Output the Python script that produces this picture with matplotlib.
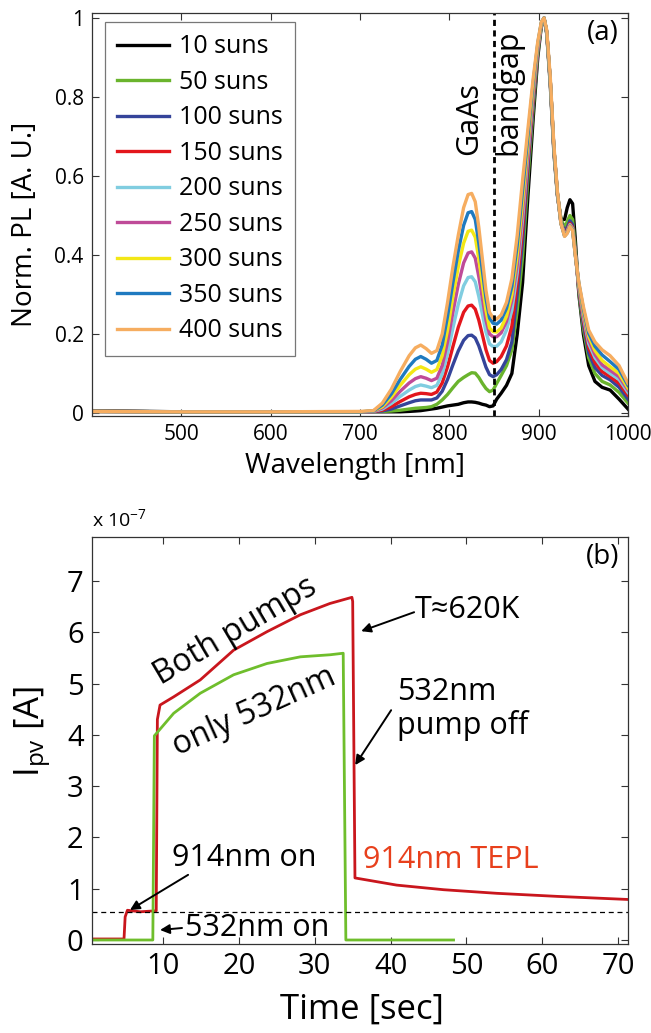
import matplotlib
matplotlib.use("Agg")
import matplotlib.pyplot as plt

plt.rcParams["font.family"] = ["Open Sans", "DejaVu Sans"]
plt.rcParams["mathtext.fontset"] = "custom"
plt.rcParams["mathtext.rm"] = "Open Sans"
plt.rcParams["mathtext.it"] = "Open Sans:italic"
plt.rcParams["mathtext.default"] = "regular"

# ---- panel (a): normalised PL spectra ----
WL = [400, 500, 600, 700,
      715, 725, 735, 745, 755, 762, 768, 774, 780, 786,
      792, 798, 804, 810, 816, 821, 825, 829, 833, 837,
      841, 845, 849, 853, 858, 864, 870,
      876, 882, 888, 894, 899, 903, 906, 909, 913, 917,
      921, 925, 929, 932, 935, 938, 941, 945, 950, 956,
      963, 971, 980, 990, 1000]

PL_10 = [.006, .003, .003, .003,
         .003, .003, .003, .003, .004, .005, .006, .008, .01, .012,
         .015, .018, .02, .022, .026, .028, .028, .027, .025, .022,
         .02, .016, .018, .035, .05, .07, .1,
         .2, .33, .55, .75, .9, .98, 1.0, .96, .83, .66,
         .55, .49, .49, .52, .54, .53, .44, .30, .2, .12,
         .08, .065, .058, .035, .01]
PL_50 = [.004, .003, .003, .003,
         .004, .004, .005, .007, .01, .012, .013, .014, .016, .022,
         .033, .047, .064, .08, .09, .097, .102, .101, .09, .075,
         .062, .054, .058, .075, .095, .12, .16,
         .26, .395, .593, .775, .91, .982, 1.0, .965, .84, .67,
         .555, .49, .47, .485, .50, .49, .42, .305, .214, .14,
         .10, .08, .071, .052, .025]
PL_100 = [.004, .003, .003, .003,
          .004, .005, .01, .018, .026, .031, .033, .033, .033, .038,
          .055, .085, .122, .157, .184, .196, .197, .19, .17, .143,
          .116, .097, .092, .097, .11, .135, .18,
          .30, .434, .618, .79, .916, .984, 1.0, .965, .84, .67,
          .555, .485, .46, .47, .487, .477, .41, .31, .225, .152,
          .115, .095, .084, .065, .035]
PL_150 = [.004, .003, .003, .003,
          .004, .007, .016, .029, .041, .047, .05, .049, .047, .053,
          .076, .117, .168, .217, .255, .271, .273, .263, .235, .198,
          .16, .133, .126, .13, .143, .17, .22,
          .33, .465, .638, .802, .921, .985, 1.0, .965, .84, .67,
          .555, .48, .455, .463, .48, .47, .405, .315, .235, .165,
          .128, .105, .092, .075, .045]
PL_200 = [.004, .003, .003, .003,
          .004, .01, .024, .042, .058, .067, .071, .068, .064, .07,
          .098, .15, .215, .275, .322, .343, .345, .332, .295, .25,
          .205, .175, .168, .169, .18, .21, .26,
          .355, .491, .655, .812, .925, .986, 1.0, .965, .84, .67,
          .555, .48, .452, .46, .477, .467, .403, .32, .243, .176,
          .14, .115, .10, .085, .052]
PL_250 = [.004, .003, .003, .003,
          .004, .013, .031, .055, .076, .087, .092, .088, .082, .088,
          .12, .18, .255, .325, .38, .405, .408, .392, .345, .29,
          .235, .2, .193, .193, .203, .232, .285,
          .375, .512, .669, .82, .928, .987, 1.0, .965, .84, .67,
          .555, .48, .45, .458, .475, .465, .402, .322, .25, .185,
          .148, .122, .108, .092, .058]
PL_300 = [.004, .003, .003, .003,
          .005, .016, .04, .07, .097, .111, .117, .111, .103, .11,
          .145, .21, .295, .37, .43, .46, .463, .445, .39, .325,
          .26, .215, .206, .205, .215, .245, .3,
          .40, .538, .686, .83, .932, .988, 1.0, .965, .84, .67,
          .555, .48, .449, .457, .474, .464, .401, .325, .257, .194,
          .158, .133, .117, .10, .063]
PL_350 = [.004, .003, .003, .003,
          .005, .02, .048, .085, .118, .136, .143, .136, .126, .133,
          .172, .245, .33, .41, .475, .507, .51, .49, .43, .36,
          .29, .24, .227, .225, .235, .265, .32,
          .425, .564, .703, .84, .936, .989, 1.0, .965, .84, .67,
          .555, .48, .448, .456, .473, .463, .40, .328, .264, .202,
          .169, .147, .13, .11, .07]
PL_400 = [.004, .003, .003, .004,
          .006, .025, .06, .105, .145, .165, .172, .163, .151, .158,
          .2, .28, .37, .45, .52, .553, .556, .535, .47, .39,
          .31, .255, .24, .238, .248, .28, .34,
          .45, .59, .72, .85, .94, .99, 1.0, .97, .85, .68,
          .56, .48, .447, .455, .472, .462, .40, .33, .27, .21,
          .18, .16, .145, .12, .075]

SPECTRA = [PL_10, PL_50, PL_100, PL_150, PL_200, PL_250, PL_300, PL_350, PL_400]
LABELS = ["10 suns", "50 suns", "100 suns", "150 suns", "200 suns",
          "250 suns", "300 suns", "350 suns", "400 suns"]
COLORS = ["#000000", "#6ab42d", "#35449a", "#e3161c", "#80cde0",
          "#bf4b98", "#f3e716", "#1f7ac0", "#f6ad60"]
GAAS_EDGE = 850

# ---- panel (b): photovoltage current (units of 1e-7 A) ----
T_RED = [0.63, 4.85, 5.0, 5.3, 7.0, 9.1, 9.25, 9.6, 11.4, 14.9, 19.3, 23.7,
         28.1, 32.0, 34.9, 35.0, 35.3, 40.8, 47.0, 54.0, 62.0, 71.3]
I_RED = [0.02, 0.02, 0.45, 0.58, 0.55, 0.57, 4.3, 4.58, 4.74, 5.07, 5.65, 6.01,
         6.34, 6.56, 6.68, 6.6, 1.21, 1.07, 0.98, 0.91, 0.85, 0.79]
T_GREEN = [0.63, 8.65, 8.85, 11.4, 14.9, 19.3, 23.7, 28.1, 32.0, 33.75, 34.1, 48.3]
I_GREEN = [0.0, 0.0, 3.98, 4.42, 4.81, 5.17, 5.39, 5.52, 5.56, 5.59, 0.0, 0.0]
DARK_LEVEL = 0.55

fig = plt.figure(figsize=(6.51, 10.33), dpi=100)
ax1 = fig.add_axes([92 / 651, 1 - 416 / 1033, 536 / 651, 403 / 1033])
ax2 = fig.add_axes([92 / 651, 1 - 944 / 1033, 536 / 651, 407 / 1033])

for ax in (ax1, ax2):
    for s in ax.spines.values():
        s.set_color("#333333")
        s.set_linewidth(0.9)
    ax.tick_params(direction="in", length=5, width=0.8, top=True, right=True,
                   colors="#333333", labelcolor="black", pad=6)

# panel (a)
for vals, lab, col in zip(SPECTRA, LABELS, COLORS):
    ax1.plot(WL, vals, color=col, lw=2.4, label=lab, solid_joinstyle="round")
ax1.axvline(GAAS_EDGE, color="black", lw=2.0, ls=(0, (2.2, 1.6)))
ax1.set_xlim(400, 1000)
ax1.set_ylim(-0.0076, 1.0127)
ax1.set_xticks([500, 600, 700, 800, 900, 1000])
ax1.set_yticks([0, 0.2, 0.4, 0.6, 0.8, 1])
ax1.set_yticklabels(["0", "0.2", "0.4", "0.6", "0.8", "1"])
ax1.tick_params(labelsize=15)

leg = ax1.legend(loc="upper left", bbox_to_anchor=(0.024, 0.978), borderaxespad=0,
                 fancybox=False, edgecolor="#555555", fontsize=18,
                 handlelength=2.05, handletextpad=0.4, labelspacing=0.42,
                 borderpad=0.5)
leg.get_frame().set_linewidth(0.9)

ax1.text(0.491, -0.124, "Wavelength [nm]", transform=ax1.transAxes,
         ha="center", va="center", fontsize=20)
ax1.text(-0.125, 0.476, "Norm. PL [A. U.]", transform=ax1.transAxes,
         ha="center", va="center", rotation=90, fontsize=20)
ax1.text(822.5, 0.653, "GaAs", rotation=90, ha="center", va="bottom", fontsize=22)
ax1.text(866, 0.653, "bandgap", rotation=90, ha="center", va="bottom", fontsize=22)
ax1.text(972, 0.962, "(a)", ha="center", va="center", fontsize=20)

# panel (b)
ax2.plot(T_RED, I_RED, color="#c9161d", lw=2.0)
ax2.plot(T_GREEN, I_GREEN, color="#6fbe2c", lw=2.0)
ax2.axhline(DARK_LEVEL, color="black", lw=0.9, ls=(0, (4, 3)))
ax2.set_xlim(0.63, 71.3)
ax2.set_ylim(-0.078, 7.856)
ax2.set_xticks([10, 20, 30, 40, 50, 60, 70])
ax2.set_yticks(range(8))
ax2.tick_params(labelsize=21)

ax2.text(0.504, -0.162, "Time [sec]", transform=ax2.transAxes,
         ha="center", va="center", fontsize=25)
ax2.text(-0.11, 0.521, r"I$_{\mathrm{pv}}$ [A]", transform=ax2.transAxes,
         ha="center", va="center", rotation=90, fontsize=25)
fig.text(92 / 651, 1 - 519 / 1033, r"x 10$^{-7}$", ha="left", va="center", fontsize=14)
ax2.text(67.9, 7.47, "(b)", ha="center", va="center", fontsize=20)

arrow = dict(arrowstyle="-|>", color="black", lw=1.4, mutation_scale=14,
             shrinkA=0, shrinkB=0)
ax2.text(19.6, 6.02, "Both pumps", rotation=30.6, ha="center", va="center",
         fontsize=23, rotation_mode="anchor")
ax2.text(22.0, 4.45, "only 532nm", rotation=24.4, ha="center", va="center",
         fontsize=23, rotation_mode="anchor")
ax2.text(43.2, 6.43, "T≈620K", ha="left", va="center", fontsize=22)
ax2.annotate("", xy=(36.12, 6.02), xytext=(43.1, 6.39), arrowprops=arrow)
ax2.text(40.87, 4.5, "532nm\npump off", ha="left", va="center", fontsize=22,
         linespacing=1.15)
ax2.annotate("", xy=(35.33, 3.41), xytext=(40.07, 4.48), arrowprops=arrow)
ax2.text(36.38, 1.56, "914nm TEPL", ha="left", va="center", fontsize=22,
         color="#e8401c")
ax2.text(11.18, 1.6, "914nm on", ha="left", va="center", fontsize=22)
ax2.annotate("", xy=(5.64, 0.585), xytext=(13.3, 1.27), arrowprops=arrow)
ax2.text(12.9, 0.234, "532nm on", ha="left", va="center", fontsize=22)
ax2.annotate("", xy=(9.6, 0.195), xytext=(12.5, 0.234), arrowprops=arrow)

fig.savefig("out.png", dpi=100)
